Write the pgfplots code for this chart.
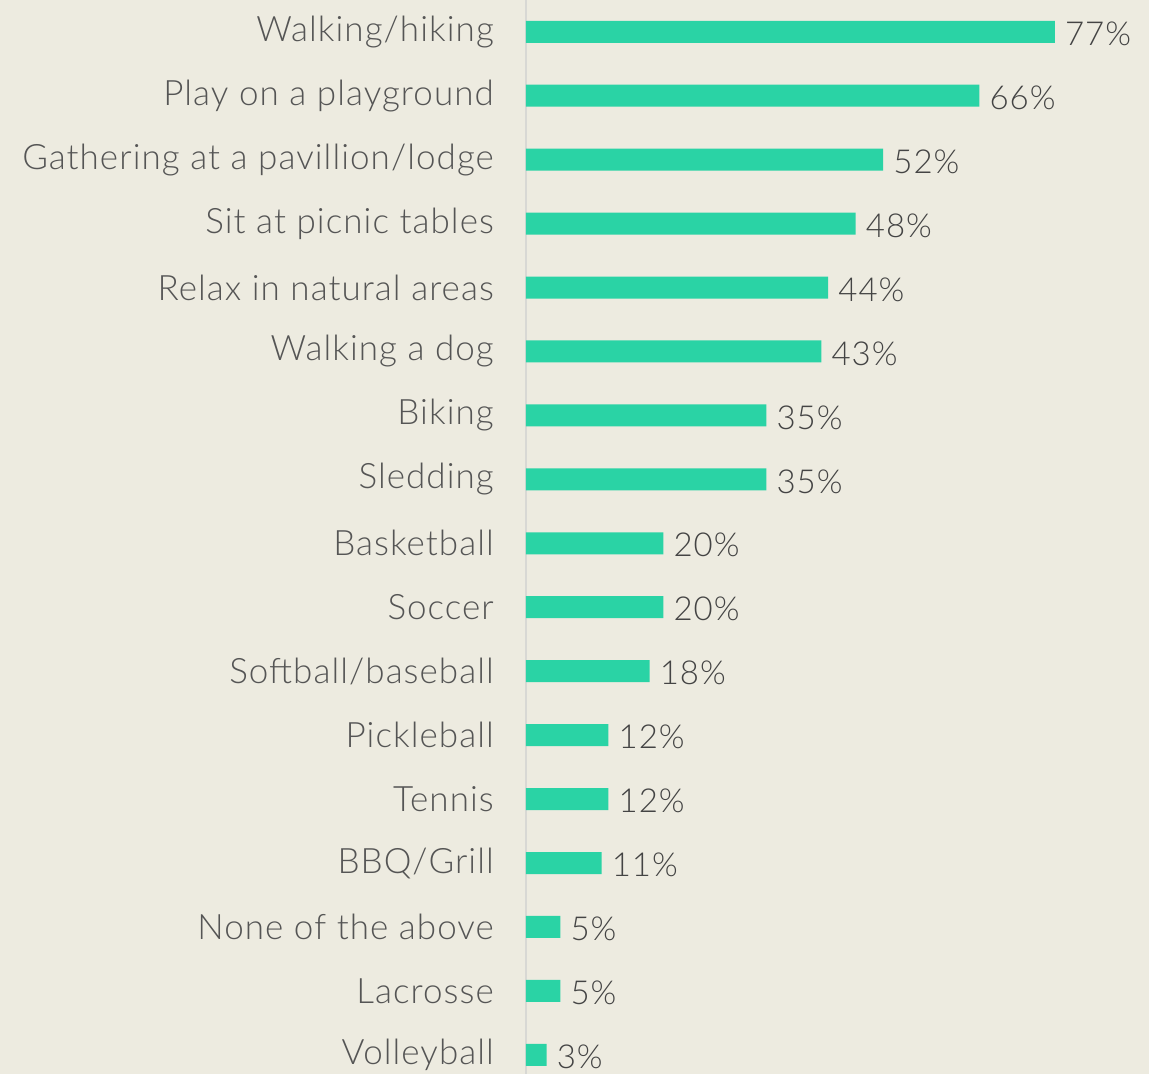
\documentclass[border=0pt]{standalone}
\usepackage{pgfplots}
\pgfplotsset{compat=1.18}
\usepackage{fontspec}
\setmainfont{Lato}[UprightFont={* Light}, LetterSpace=3]
\definecolor{bg}{HTML}{EDEBE0}
\definecolor{bar}{HTML}{2AD3A5}
\definecolor{lab}{HTML}{555555}
\definecolor{val}{HTML}{444444}
\definecolor{axl}{HTML}{D8D8D4}
\begin{document}
\begin{tikzpicture}
\fill[bg] (0,0) rectangle (1149pt,1074pt);
\begin{axis}[
  at={(526pt,0pt)}, anchor=south west,
  scale only axis, width=623pt, height=1074.2pt,
  xbar, bar width=22pt,
  xmin=0, xmax=90.7,
  ymin=-0.5, ymax=16.3, y dir=reverse,
  axis x line=none, axis y line*=left,
  y axis line style={draw=axl, line width=1.5pt},
  ytick={0,...,16}, major tick length=0pt,
  yticklabels={Walking/hiking,Play on a playground,Gathering at a pavillion/lodge,Sit at picnic tables,Relax in natural areas,Walking a dog,Biking,Sledding,Basketball,Soccer,Softball/baseball,Pickleball,Tennis,BBQ/Grill,None of the above,Lacrosse,Volleyball},
  yticklabel style={font=\fontsize{35}{40}\selectfont, text=lab, inner sep=0pt, xshift=-32pt},
  /pgf/number format/assume math mode=true,
  nodes near coords={\pgfmathprintnumber{\pgfplotspointmeta}\%},
  nodes near coords style={font=\fontsize{33}{38}\selectfont, text=val, anchor=west, inner sep=0pt, xshift=10pt, yshift=-2pt},
  clip=false,
]
\addplot[fill=bar, draw=none] coordinates {
(77,0) (66,1) (52,2) (48,3) (44,4) (43,5) (35,6) (35,7) (20,8) (20,9) (18,10) (12,11) (12,12) (11,13) (5,14) (5,15) (3,16)
};
\end{axis}
\pgfresetboundingbox
\useasboundingbox (0,0) rectangle (1149pt,1074pt);
\end{tikzpicture}
\end{document}
